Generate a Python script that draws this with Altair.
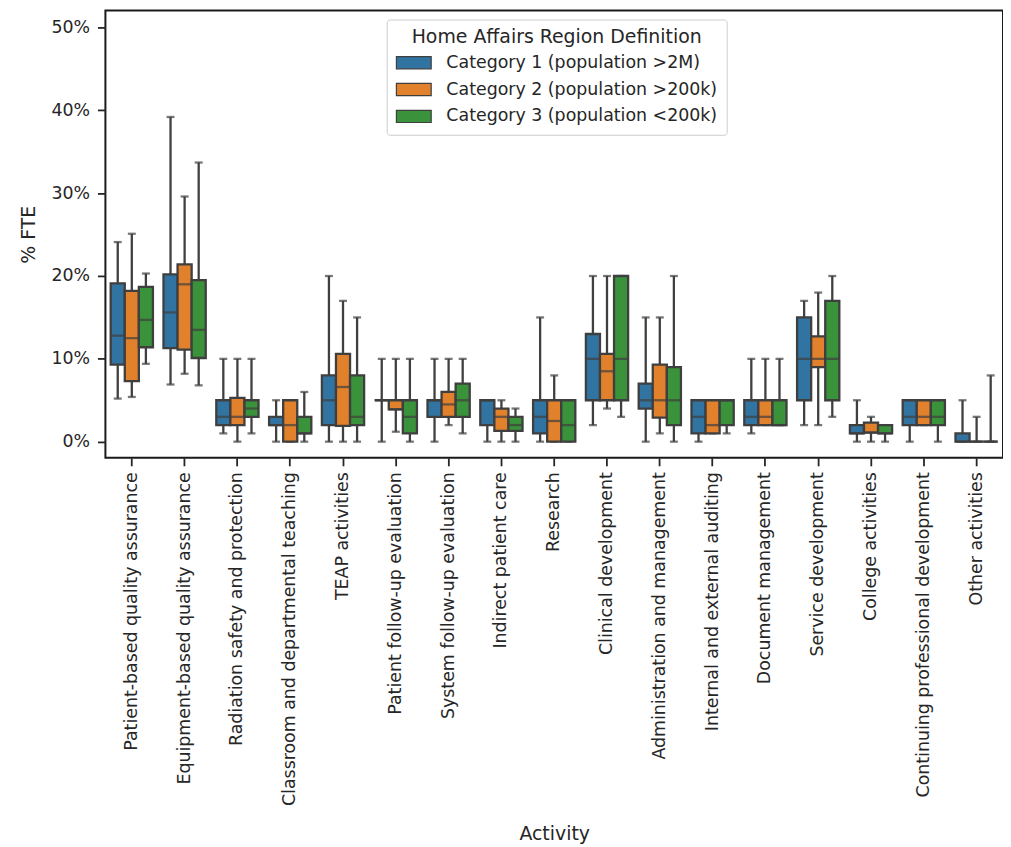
import altair as alt
import pandas as pd

activities = [
    "Patient-based quality assurance",
    "Equipment-based quality assurance",
    "Radiation safety and protection",
    "Classroom and departmental teaching",
    "TEAP activities",
    "Patient follow-up evaluation",
    "System follow-up evaluation",
    "Indirect patient care",
    "Research",
    "Clinical development",
    "Administration and management",
    "Internal and external auditing",
    "Document management",
    "Service development",
    "College activities",
    "Continuing professional development",
    "Other activities",
]
groups = [
    "Category 1 (population >2M)",
    "Category 2 (population >200k)",
    "Category 3 (population <200k)",
]
colors = ["#3274a1", "#e1812c", "#3a923a"]

# Category 1 (population >2M)
c1_low = [5.2, 6.9, 1, 0, 0, 0, 0, 0, 0, 2, 0, 0, 1, 2, 0, 0, 0]
c1_q1 = [9.3, 11.3, 2, 2, 2, 5, 3, 2, 1, 5, 4, 1, 2, 5, 1, 2, 0]
c1_med = [12.8, 15.6, 3, 2, 5, 5, 5, 5, 3, 10, 5, 3, 3, 10, 1, 3, 0]
c1_q3 = [19.1, 20.2, 5, 3, 8, 5, 5, 5, 5, 13, 7, 5, 5, 15, 2, 5, 1]
c1_high = [24.1, 39.2, 10, 5, 20, 10, 10, 5, 15, 20, 15, 5, 10, 17, 5, 5, 5]

# Category 2 (population >200k)
c2_low = [5.4, 8.2, 0, 0, 0, 1.2, 2, 0, 0, 4, 1, 1, 2, 2, 0, 2, 0]
c2_q1 = [7.3, 11.1, 2, 0, 1.9, 3.9, 3, 1.3, 0, 5, 2.9, 1, 2, 9, 1.1, 2, 0]
c2_med = [12.5, 19.0, 3, 2, 6.6, 3.9, 4.5, 3, 2.5, 8.5, 5, 2, 3, 10, 1.1, 3, 0]
c2_q3 = [18.2, 21.4, 5.3, 5, 10.6, 5, 6, 4, 5, 10.6, 9.3, 5, 5, 12.7, 2.3, 5, 0]
c2_high = [25.1, 29.6, 10, 5, 17, 10, 10, 5, 8, 20, 15, 5, 10, 18, 3, 5, 3]

# Category 3 (population <200k)
c3_low = [9.4, 6.8, 1, 0, 0, 0, 1, 0, 0, 3, 0, 1, 2, 3, 0, 0, 0]
c3_q1 = [11.4, 10.1, 3, 1, 2, 1, 3, 1.3, 0, 5, 2, 2, 2, 5, 1, 2, 0]
c3_med = [14.7, 13.5, 4, 1, 3, 3, 5, 2, 2, 10, 5, 5, 2, 10, 1, 3, 0]
c3_q3 = [18.7, 19.5, 5, 3, 8, 5, 7, 3, 5, 20, 9, 5, 5, 17, 2, 5, 0]
c3_high = [20.3, 33.7, 10, 6, 15, 10, 10, 4, 5, 20, 20, 5, 10, 20, 2, 5, 8]

series = [
    (groups[0], c1_low, c1_q1, c1_med, c1_q3, c1_high),
    (groups[1], c2_low, c2_q1, c2_med, c2_q3, c2_high),
    (groups[2], c3_low, c3_q1, c3_med, c3_q3, c3_high),
]
rows = []
for g, lo, q1, md, q3, hi in series:
    for i, a in enumerate(activities):
        rows.append(dict(activity=a, group=g, low=lo[i], q1=q1[i], med=md[i], q3=q3[i], high=hi[i]))
df = pd.DataFrame(rows)

FONT = "DejaVu Sans"
LINE = "#3f3f3f"
TXT = "#262626"
LW = 2.3

x_enc = alt.X(
    "activity:N",
    sort=activities,
    scale=alt.Scale(paddingInner=0.2, paddingOuter=0.1, round=False),
    axis=alt.Axis(
        title="Activity",
        labelAngle=270,
        labelAlign="right",
        labelBaseline="middle",
        labelFontSize=17.5,
        titleFontSize=19,
        labelFont=FONT,
        titleFont=FONT,
        labelColor=TXT,
        titleColor=TXT,
        titleFontWeight="normal",
        tickSize=8,
        tickWidth=1.8,
        tickColor=TXT,
        labelPadding=6,
        titleY=369,
        titleBaseline="top",
        domain=False,
        labelLimit=500,
    ),
)
xo_enc = alt.XOffset("group:N", sort=groups, scale=alt.Scale(paddingInner=0, paddingOuter=0))
y_scale = alt.Scale(domain=[-1.95, 52.05], nice=False, zero=False)
y_axis = alt.Axis(
    title="% FTE",
    values=[0, 10, 20, 30, 40, 50],
    labelExpr="datum.value + '%'",
    labelFontSize=17.5,
    titleFontSize=19,
    labelFont=FONT,
    titleFont=FONT,
    labelColor=TXT,
    titleColor=TXT,
    titleFontWeight="normal",
    tickSize=8,
    tickWidth=1.8,
    tickColor=TXT,
    labelPadding=8,
    titlePadding=12,
    grid=False,
    domain=False,
)

base = alt.Chart(df)

whisk = base.mark_rule(color=LINE, strokeWidth=LW).encode(
    x=x_enc, xOffset=xo_enc, y=alt.Y("low:Q", scale=y_scale, axis=y_axis), y2="high:Q"
)
cap_lo = base.mark_tick(color=LINE, size=8, thickness=LW, orient="horizontal").encode(
    x=x_enc, xOffset=xo_enc, y=alt.Y("low:Q", scale=y_scale)
)
cap_hi = base.mark_tick(color=LINE, size=8, thickness=LW, orient="horizontal").encode(
    x=x_enc, xOffset=xo_enc, y=alt.Y("high:Q", scale=y_scale)
)
boxes = base.mark_bar(stroke=LINE, strokeWidth=LW, opacity=1).encode(
    x=x_enc,
    xOffset=xo_enc,
    y=alt.Y("q1:Q", scale=y_scale),
    y2="q3:Q",
    color=alt.Color(
        "group:N",
        sort=groups,
        scale=alt.Scale(domain=groups, range=colors),
        legend=alt.Legend(
            title="Home Affairs Region Definition",
            orient="none",
            legendX=283,
            legendY=9,
            titleFontSize=19,
            titleFont=FONT,
            titleFontWeight="normal",
            titleColor=TXT,
            titleAnchor="middle",
            titleLimit=600,
            titlePadding=6,
            labelFontSize=17.5,
            labelFont=FONT,
            labelColor=TXT,
            labelLimit=400,
            symbolType="M-1,-0.7H3V0.7H-1Z",
            symbolSize=306,
            symbolStrokeColor=LINE,
            symbolStrokeWidth=1.2,
            symbolOpacity=1,
            labelOffset=32,
            rowPadding=8,
            padding=9,
            strokeColor="#cccccc",
            fillColor="white",
            cornerRadius=3,
        ),
    ),
)
med = base.mark_tick(color=LINE, size=14, thickness=LW, orient="horizontal").encode(
    x=x_enc, xOffset=xo_enc, y=alt.Y("med:Q", scale=y_scale)
)

chart = (
    alt.layer(whisk, cap_lo, cap_hi, boxes, med)
    .properties(width=903, height=450, padding={"left": 12, "top": 0, "right": 0, "bottom": 5})
    .configure(font=FONT, background="white")
    .configure_view(stroke="#1a1a1a", strokeWidth=2)
)

chart.save("out.html", embed_options={"renderer": "svg", "actions": False})
